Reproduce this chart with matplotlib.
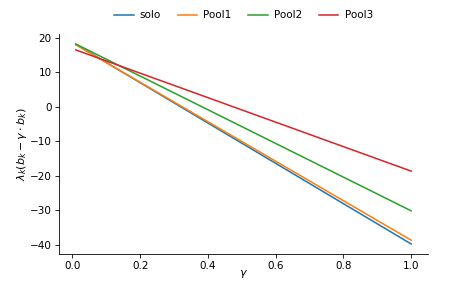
import matplotlib
matplotlib.use("Agg")
import matplotlib.pyplot as plt
import numpy as np

gamma = [0.01, 1.0]
series_names = ["solo", "Pool1", "Pool2", "Pool3"]
solo = [18.1, -39.7]
pool1 = [18.0, -38.6]
pool2 = [18.2, -30.1]
pool3 = [16.5, -18.6]
colors = ["#1f77b4", "#ff7f0e", "#2ca02c", "#d62728"]

s = 0.744
plt.rcParams.update({
    'font.size': 10 * s,
    'xtick.major.size': 3.5 * s, 'ytick.major.size': 3.5 * s,
    'xtick.major.pad': 3.5 * s, 'ytick.major.pad': 3.5 * s,
    'xtick.major.width': 0.8 * s, 'ytick.major.width': 0.8 * s,
    'axes.linewidth': 0.8 * s,
    'axes.labelpad': 4 * s,
})
fig = plt.figure(figsize=(4.76, 2.86), dpi=100)
ax = fig.add_axes([0.124, 0.112, 0.775, 0.769])
for name, vals, c in zip(series_names, [solo, pool1, pool2, pool3], colors):
    ax.plot(gamma, vals, color=c, lw=1.5 * s, label=name)
ax.spines['top'].set_visible(False)
ax.spines['right'].set_visible(False)
ax.set_xlabel(r"$\gamma$", fontsize=8)
ax.set_ylabel(r"$\lambda_k(b_k - \gamma \cdot b_k)$", fontsize=8)
ax.yaxis.set_label_coords(-0.082, 0.5)
ax.xaxis.set_label_coords(0.5, -0.062)
ax.set_yticks([-40, -30, -20, -10, 0, 10, 20])
ax.set_xticks([0.0, 0.2, 0.4, 0.6, 0.8, 1.0])
ax.legend(loc='lower center', bbox_to_anchor=(0.5, 1.02), ncol=4, frameon=False,
          handlelength=1.9, handletextpad=0.6, columnspacing=1.6)
fig.savefig("out.png", dpi=100)
